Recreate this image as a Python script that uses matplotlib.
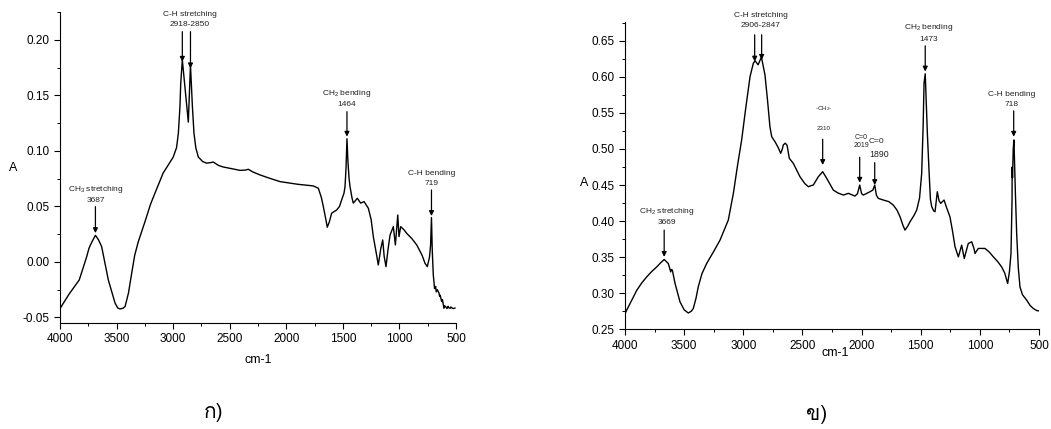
import matplotlib
matplotlib.use('Agg')
import matplotlib.pyplot as plt
from matplotlib import font_manager
from matplotlib.ft2font import FT2Font
from matplotlib.ticker import MultipleLocator

# ---- data ----
left_wn = [4000, 3920, 3830, 3764, 3745, 3731, 3714, 3687, 3660, 3632, 3573, 3514, 3490,
           3470, 3445, 3425, 3395, 3366, 3340, 3308, 3250, 3200, 3160, 3089, 3043,
           2999, 2970, 2954, 2940, 2933, 2919, 2866, 2847, 2830, 2816,
           2800, 2778, 2740, 2704, 2670, 2645, 2600, 2559, 2480, 2409, 2360, 2336,
           2294, 2232, 2150, 2056, 1900, 1761, 1717, 1690, 1673, 1650, 1638, 1620,
           1599, 1555, 1530, 1511, 1490, 1481, 1472, 1464, 1455, 1445, 1437, 1420,
           1408, 1372, 1343, 1313, 1275, 1250, 1231, 1205, 1187, 1165, 1148, 1135,
           1119, 1100, 1083, 1054, 1036, 1015, 1004, 989, 960, 936, 890, 847, 800,
           774, 754, 735, 725, 717, 710, 701, 695, 690, 680, 675, 665, 650, 645,
           640, 627, 620, 607, 600, 590, 580, 570, 565, 553, 545, 540, 525, 510]
left_a = [-0.042, -0.029, -0.0162, 0.0048, 0.012, 0.0153, 0.0189, 0.024, 0.020, 0.0138,
          -0.0162, -0.0369, -0.0415, -0.0423, -0.0418, -0.0402, -0.028, -0.0099,
          0.006, 0.0183, 0.036, 0.052, 0.0622, 0.080, 0.0874, 0.0946, 0.103, 0.116,
          0.140, 0.161, 0.182, 0.126, 0.1775, 0.140, 0.116, 0.103,
          0.0946, 0.0905, 0.089, 0.0895, 0.090, 0.087, 0.0856, 0.084, 0.0825,
          0.0828, 0.0835, 0.081, 0.0784, 0.0755, 0.0724, 0.070, 0.0685, 0.0664,
          0.058, 0.050, 0.038, 0.0313, 0.036, 0.044, 0.0468, 0.050, 0.0559, 0.062,
          0.068, 0.085, 0.111, 0.090, 0.075, 0.068, 0.058, 0.053, 0.0574, 0.053,
          0.0544, 0.0484, 0.038, 0.0228, 0.008, -0.0027, 0.012, 0.0198, 0.005,
          -0.0042, 0.012, 0.0243, 0.0318, 0.0153, 0.0423, 0.0228, 0.0318, 0.029,
          0.0258, 0.021, 0.0153, 0.006, -0.0012, -0.0042, 0.004, 0.015, 0.040,
          0.010, -0.0117, -0.018, -0.024, -0.022, -0.027, -0.025, -0.0282, -0.031,
          -0.030, -0.0357, -0.034, -0.0417, -0.0395, -0.0405, -0.042, -0.040,
          -0.0412, -0.0418, -0.0405, -0.0412, -0.042, -0.0415]

right_wn = [4000, 3950, 3901, 3860, 3817, 3775, 3732, 3700, 3669, 3645, 3634, 3614,
            3607, 3600, 3577, 3555, 3535, 3500, 3465, 3440, 3423, 3400, 3381, 3350,
            3310, 3250, 3197, 3127, 3084, 3050, 3014, 2980, 2943, 2915, 2900, 2875,
            2847, 2817, 2795, 2775, 2760, 2732, 2705, 2684, 2670, 2662, 2645, 2630,
            2611, 2577, 2521, 2480, 2450, 2430, 2408, 2366, 2329, 2295, 2239, 2200,
            2154, 2112, 2056, 2035, 2016, 2000, 1985, 1929, 1905, 1889, 1875, 1859,
            1816, 1770, 1732, 1700, 1675, 1650, 1633, 1610, 1591, 1560, 1534, 1510,
            1492, 1480, 1472, 1462, 1452, 1444, 1430, 1418, 1407, 1390, 1379, 1360,
            1345, 1331, 1303, 1280, 1253, 1230, 1210, 1182, 1154, 1132, 1098, 1069,
            1050, 1041, 1030, 1013, 957, 920, 886, 850, 816, 790, 765, 750, 737, 728,
            727, 724, 718, 712, 700, 689, 675, 661, 640, 604, 575, 548, 520, 500]
right_a = [0.272, 0.288, 0.304, 0.314, 0.3226, 0.330, 0.3365, 0.342, 0.3468, 0.343,
           0.3412, 0.3296, 0.333, 0.332, 0.3135, 0.300, 0.2879, 0.277, 0.2726,
           0.275, 0.2788, 0.293, 0.3088, 0.327, 0.3412, 0.358, 0.3736, 0.4014,
           0.4385, 0.476, 0.5125, 0.556, 0.6004, 0.619, 0.6222, 0.6167, 0.6274,
           0.6028, 0.567, 0.531, 0.517, 0.510, 0.502, 0.494, 0.500, 0.5056, 0.508,
           0.505, 0.487, 0.480, 0.4615, 0.452, 0.4476, 0.449, 0.450, 0.4615,
           0.4685, 0.4593, 0.443, 0.439, 0.4361, 0.4385, 0.4347, 0.438, 0.450,
           0.438, 0.4361, 0.4407, 0.443, 0.450, 0.436, 0.4315, 0.4292, 0.427,
           0.4222, 0.415, 0.406, 0.394, 0.3875, 0.393, 0.399, 0.407, 0.4153, 0.432,
           0.4662, 0.530, 0.5913, 0.6042, 0.560, 0.5218, 0.470, 0.430, 0.4199,
           0.414, 0.413, 0.4407, 0.428, 0.4246, 0.4292, 0.418, 0.406, 0.385,
           0.3643, 0.3504, 0.3667, 0.3482, 0.369, 0.3713, 0.362, 0.3551, 0.358,
           0.3621, 0.3621, 0.357, 0.3504, 0.344, 0.3365, 0.328, 0.3135, 0.330,
           0.3551, 0.430, 0.475, 0.460, 0.500, 0.5125, 0.440, 0.383, 0.335, 0.3088,
           0.298, 0.2903, 0.283, 0.2788, 0.276, 0.2755]

# peak labels (text, wavenumbers of arrows)
left_peaks = [('CH$_3$ stretching\n3687', [3687]),
              ('C-H stretching\n2918-2850', [2919, 2847]),
              ('CH$_2$ bending\n1464', [1464]),
              ('C-H bending\n719', [717])]
right_peaks = [('CH$_2$ stretching\n3669', [3669]),
               ('C-H stretching\n2906-2847', [2904, 2845]),
               ('CH$_2$ bending\n1473', [1462]),
               ('C-H bending\n718', [714])]

# ---- fonts ----
thai_font = None
for f in font_manager.fontManager.ttflist:
    try:
        if ord('ก') in FT2Font(f.fname).get_charmap():
            thai_font = f.name
            break
    except Exception:
        pass

plt.rcParams['font.family'] = ['Liberation Sans', 'DejaVu Sans']
plt.rcParams['mathtext.default'] = 'regular'

fig = plt.figure(figsize=(10.51, 4.29), dpi=100)
ax1 = fig.add_axes([0.0571, 0.2471, 0.3768, 0.7249])
ax2 = fig.add_axes([0.5947, 0.2324, 0.3939, 0.7163])


def style(ax, ymin, ymax):
    ax.set_xlim(4000, 500)
    ax.set_ylim(ymin, ymax)
    ax.spines['top'].set_visible(False)
    ax.spines['right'].set_visible(False)
    ax.xaxis.set_major_locator(MultipleLocator(500))
    ax.xaxis.set_minor_locator(MultipleLocator(250))
    ax.yaxis.set_major_locator(MultipleLocator(0.05))
    ax.yaxis.set_minor_locator(MultipleLocator(0.025))
    ax.tick_params(which='major', direction='out', length=4, width=0.8, labelsize=8.5)
    ax.tick_params(which='minor', direction='out', length=2.2, width=0.7)
    ax.yaxis.set_major_formatter(plt.FormatStrFormatter('%.2f'))


def arrow(ax, x, y0, y1):
    ax.annotate('', xy=(x, y1), xytext=(x, y0),
                arrowprops=dict(arrowstyle='-|>', color='k', lw=0.9,
                                mutation_scale=7, shrinkA=0, shrinkB=0))


ax1.plot(left_wn, left_a, color='k', lw=1.0)
style(ax1, -0.055, 0.2252)
ax2.plot(right_wn, right_a, color='k', lw=1.0)
style(ax2, 0.25, 0.676)

# left annotations: (text x, text bottom, arrow top, arrow tip per arrow)
left_pos = [(3687, 0.052, 0.0498, [0.026]),
            (2855, 0.2108, 0.2075, [0.1804, 0.1745]),
            (1464, 0.1387, 0.1354, [0.1129]),
            (715, 0.0676, 0.0649, [0.0414])]
for (txt, xs), (tx, ty, y0, tips) in zip(left_peaks, left_pos):
    ax1.text(tx, ty, txt, ha='center', va='bottom', fontsize=6, linespacing=1.5,
             color='#222222', clip_on=False)
    for x, y1 in zip(xs, tips):
        arrow(ax1, x, y0, y1)

right_pos = [(3645, 0.393, 0.3875, [0.3504]),
             (2852, 0.6667, 0.6583, [0.6212, 0.6236]),
             (1432, 0.6472, 0.643, [0.6074]),
             (728, 0.557, 0.5528, [0.517])]
for (txt, xs), (tx, ty, y0, tips) in zip(right_peaks, right_pos):
    ax2.text(tx, ty, txt, ha='center', va='bottom', fontsize=6, linespacing=1.5,
             color='#222222', clip_on=False)
    for x, y1 in zip(xs, tips):
        arrow(ax2, x, y0, y1)

# the small labels
ax2.text(2318, 0.5565, '-CH$_2$-', ha='center', va='center', fontsize=4.5, color='#222222')
ax2.text(2318, 0.5287, '2310', ha='center', va='center', fontsize=4.5, color='#222222')
arrow(ax2, 2329, 0.5135, 0.4778)
ax2.text(2005, 0.50, 'C=0\n2019', ha='center', va='bottom', fontsize=5,
         linespacing=1.1, color='#222222')
arrow(ax2, 2016, 0.4885, 0.4532)
ax2.text(1878, 0.510, 'C=0', ha='center', va='center', fontsize=6, color='#222222')
ax2.text(1850, 0.493, '1890', ha='center', va='center', fontsize=6.3, color='#222222')
arrow(ax2, 1889, 0.481, 0.45)

fig.text(13 / 1051, 1 - 168 / 429, 'A', ha='center', va='center', fontsize=9)
fig.text(584 / 1051, 1 - 183 / 429, 'A', ha='center', va='center', fontsize=9)
fig.text(258 / 1051, 1 - 360 / 429, 'cm-1', ha='center', va='center', fontsize=9)
fig.text(835 / 1051, 1 - 353 / 429, 'cm-1', ha='center', va='center', fontsize=9)

thai_fam = [thai_font, 'DejaVu Sans'] if thai_font else ['DejaVu Sans']
fig.text(214 / 1051, 1 - 412 / 429, 'ก)', ha='center', va='center', fontsize=15,
         family=thai_fam)
fig.text(817 / 1051, 1 - 414 / 429, 'ข)', ha='center', va='center', fontsize=15,
         family=thai_fam)

fig.savefig('out.png', dpi=100)
